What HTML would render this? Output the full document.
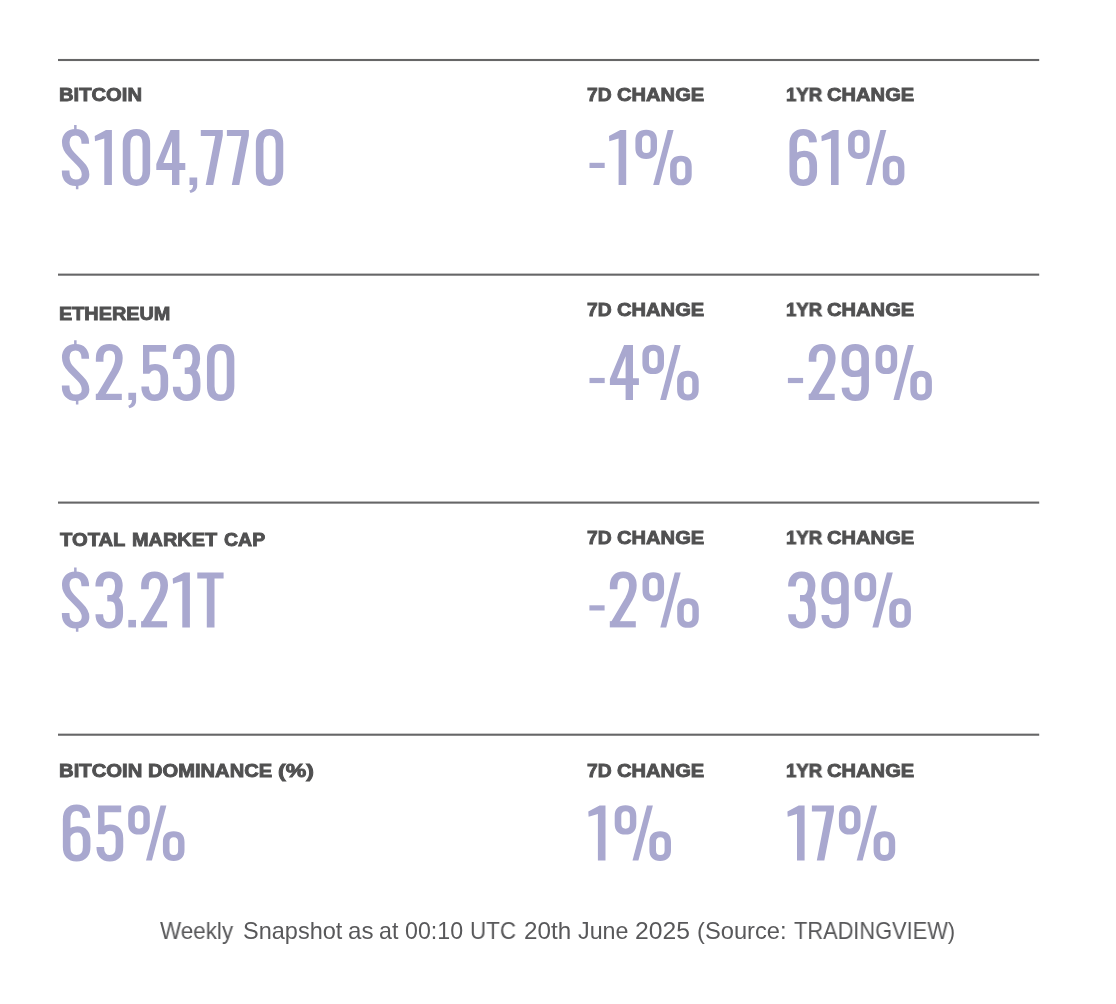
<!DOCTYPE html>
<html lang="en">
<head>
<meta charset="utf-8">
<title>Weekly Snapshot</title>
<style>
html,body{margin:0;padding:0;background:#fff;}
body{width:1116px;height:1004px;position:relative;overflow:hidden;font-family:"Liberation Sans",sans-serif;}
.lb,.ft{position:absolute;white-space:nowrap;line-height:1;transform-origin:0 0;will-change:transform;}
.lb{font-weight:bold;font-size:19px;color:#505051;-webkit-text-stroke:0.9px #505051;}
.ft{font-size:23.2px;color:#58585a;}
.bn{position:absolute;white-space:nowrap;line-height:1;font-size:77px;color:transparent;transform-origin:0 0;}
#big{position:absolute;left:0;top:0;}
#big .s{fill:none;stroke:#a9a8cf;stroke-width:7.6;stroke-linecap:butt;stroke-linejoin:round;}
#big .f{fill:#a9a8cf;stroke:none;fill-rule:evenodd;}
</style>
</head>
<body>
<svg id="big" width="1116" height="1004" viewBox="0 0 1116 1004">
<defs>
<g id="g0"><path class="s" transform="scale(1 0.84)" d="M3.85 16.46C3.85 7.36 7.3 2.62 13.75 2.62C20.2 2.62 23.65 7.36 23.65 16.46V48.89C23.65 58 20.2 62.74 13.75 62.74C7.3 62.74 3.85 58 3.85 48.89Z"/></g>
<g id="g1"><path class="f" d="M0 5.91L11.3 0H17.2V54.9H9.6V8.38L0.3 11.14Z"/></g>
<g id="g2"><path class="s" transform="scale(1 0.84)" d="M3.85 19.87V15.86C3.85 7.36 7.2 2.62 13.5 2.62C19.7 2.62 23.1 7.36 23.1 15.25C23.1 21.32 21.5 26.18 19 31.65L4.2 61.4"/><path class="f" d="M0 48.69H26V54.9H0Z"/></g>
<g id="g3"><path class="s" transform="scale(1 0.84)" d="M3.85 16.59V15.86C3.85 7.36 7.3 2.62 13.6 2.62C20 2.62 23.5 7.36 23.5 15.86C23.5 23.87 21 29.95 16 30.43C21.4 30.92 23.85 35.78 23.85 44.4V49.26C23.85 58 20.3 62.74 13.8 62.74C7.3 62.74 3.85 58 3.85 49.62"/><path class="f" d="M11.9 22.47H17V28.88H11.9Z"/></g>
<g id="g4"><path class="f" d="M14.2 0H23.1V33.12H29V39.92H23.1V54.9H15.7V39.92H0V33.91ZM15.7 11.24V33.12H7.1Z"/></g>
<g id="g5"><path class="f" d="M1.7 0H24.8V6.7H8.1V28.58H1.7Z"/><path class="s" transform="scale(1 0.84)" d="M5.1 32.25C6.8 28.25 9.8 26.18 13.6 26.18C19.8 26.18 23.05 30.67 23.05 39.18V49.26C23.05 58 19.7 62.74 13.4 62.74C7.2 62.74 3.85 58 3.85 49.14"/></g>
<g id="g6"><path class="s" transform="scale(1 0.84)" d="M23.65 14.64C23.45 7.11 20.2 2.62 13.9 2.62C7.4 2.62 3.85 7.36 3.85 16.46V49.26C3.85 58 7.4 62.74 13.8 62.74C20.3 62.74 23.85 58 23.85 49.26V41.97C23.85 32.86 20.6 28.37 14.6 28.37C9.6 28.37 5.6 31.65 3.85 36.5"/></g>
<g id="g7"><path class="f" d="M0 0H22V5.52L12.4 54.9H4.9L14.4 6.01H0Z"/></g>
<g id="g9"><path class="s" transform="scale(1 0.84)" d="M3.85 50.59C4.05 58.24 7.4 62.74 13.7 62.74C20.2 62.74 23.55 58 23.55 48.89V16.1C23.55 7.36 20.1 2.62 13.7 2.62C7.3 2.62 3.75 7.36 3.75 16.1V21.93C3.75 30.19 7 34.32 13 34.32C18 34.32 21.9 31.4 23.55 26.79"/></g>
<g id="gp"><path class="f" d="M0,10.5 C0,3.264 3.564,-0.3 10.8,-0.3 C18.036,-0.3 21.6,3.264 21.6,10.5 V18.1 C21.6,25.336 18.036,28.9 10.8,28.9 C3.564,28.9 0,25.336 0,18.1 Z M6.6,10.2 C6.6,7.118 8.019,5.6 10.9,5.6 C13.781,5.6 15.2,7.118 15.2,10.2 V18.5 C15.2,21.582 13.781,23.1 10.9,23.1 C8.019,23.1 6.6,21.582 6.6,18.5 Z"/><path class="f" d="M34.7,36.5 C34.7,29.264 38.264,25.7 45.5,25.7 C52.736,25.7 56.3,29.264 56.3,36.5 V44.5 C56.3,51.736 52.736,55.3 45.5,55.3 C38.264,55.3 34.7,51.736 34.7,44.5 Z M41.3,36.2 C41.3,33.118 42.719,31.6 45.6,31.6 C48.481,31.6 49.9,33.118 49.9,36.2 V44.8 C49.9,47.882 48.481,49.4 45.6,49.4 C42.719,49.4 41.3,47.882 41.3,44.8 Z"/><path class="f" d="M32.3,0 H38.2 L23.7,54.9 H17.8 Z"/></g>
<g id="gm"><path class="f" d="M0,32.8 H15.2 V38 H0 Z"/></g>
<g id="gd"><path class="f" d="M0,47.4 H7.7 V54.9 H0 Z"/></g>
<g id="gc"><path class="f" d="M0.6,47.6 H8.3 V55.6 C8.3,59.6 5.8,62.1 1.6,63.1 L0.4,60.6 C2.8,59.9 4.1,58.2 4.2,54.9 H0.6 Z"/></g>
<g id="gT"><path class="f" d="M0 0H26.3V5.91H17.2V54.9H9.5V5.91H0Z"/></g>
<g id="gS"><path class="s" transform="scale(1 0.84)" d="M23.4 16.34V15.86C23.4 7.36 20 2.62 13.6 2.62C7.2 2.62 3.85 7.36 3.85 14.64C3.85 20.72 6 24.97 9.5 29.22L18 39.54C21.6 43.79 23.65 47.68 23.65 52.9C23.65 58.97 20 62.74 13.9 62.74C7.4 62.74 3.75 58 3.75 49.26V48.16"/><path class="f" d="M12.2 -4.93H14.7V0.99H12.2ZM14 53.72H16.5V59.34H14Z"/></g>
</defs>
<g transform="translate(0 130)"><use href="#gS" x="61.9"/><use href="#g1" x="94.7"/><use href="#g0" x="122.7"/><use href="#g4" x="156.3"/><use href="#gc" x="188.9"/><use href="#g7" x="200.8"/><use href="#g7" x="226.9"/><use href="#g0" x="255.8"/></g>
<g transform="translate(0 130)"><use href="#gm" x="589.5"/><use href="#g1" x="609"/><use href="#gp" x="635.4"/></g>
<g transform="translate(0 130)"><use href="#g6" x="789.4"/><use href="#g1" x="821.4"/><use href="#gp" x="848.1"/></g>
<g transform="translate(0 345.1)"><use href="#gS" x="61.9"/><use href="#g2" x="95.8"/><use href="#gc" x="127.8"/><use href="#g5" x="141.3"/><use href="#g3" x="172.8"/><use href="#g0" x="206.9"/></g>
<g transform="translate(0 345.1)"><use href="#gm" x="589.5"/><use href="#g4" x="609.9"/><use href="#gp" x="642.4"/></g>
<g transform="translate(0 345.1)"><use href="#gm" x="787.9"/><use href="#g2" x="808.7"/><use href="#g9" x="841.6"/><use href="#gp" x="875.6"/></g>
<g transform="translate(0 572.5)"><use href="#gS" x="61.9"/><use href="#g3" x="95.4"/><use href="#gd" x="128.3"/><use href="#g2" x="141.1"/><use href="#g1" x="172.7"/><use href="#gT" x="197.3"/></g>
<g transform="translate(0 572.5)"><use href="#gm" x="589.4"/><use href="#g2" x="609.8"/><use href="#gp" x="642.5"/></g>
<g transform="translate(0 572.5)"><use href="#g3" x="788.1"/><use href="#g9" x="821.4"/><use href="#gp" x="854.6"/></g>
<g transform="translate(0 805.6)"><use href="#g6" x="62.8"/><use href="#g5" x="96.4"/><use href="#gp" x="128.2"/></g>
<g transform="translate(0 805.6)"><use href="#g1" x="588.3"/><use href="#gp" x="614.7"/></g>
<g transform="translate(0 805.6)"><use href="#g1" x="787.4"/><use href="#g7" x="811.9"/><use href="#gp" x="838.9"/></g>
<rect x="58" y="58.95" width="981.2" height="2.1" fill="#666667"/>
<rect x="58" y="273.6" width="981.2" height="2.1" fill="#666667"/>
<rect x="58" y="501.55" width="981.2" height="2.1" fill="#666667"/>
<rect x="58" y="733.65" width="981.2" height="2.1" fill="#666667"/>
</svg>
<span class="bn" style="left:61.38px;top:119.00px;transform:scaleX(0.6973)">$104,770</span>
<span class="bn" style="left:586.76px;top:119.00px;transform:scaleX(0.7816)">-1%</span>
<span class="bn" style="left:786.28px;top:119.00px;transform:scaleX(0.7797)">61%</span>
<span class="bn" style="left:61.34px;top:334.10px;transform:scaleX(0.7443)">$2,530</span>
<span class="bn" style="left:586.58px;top:334.10px;transform:scaleX(0.8352)">-4%</span>
<span class="bn" style="left:785.00px;top:334.10px;transform:scaleX(0.8300)">-29%</span>
<span class="bn" style="left:61.39px;top:561.50px;transform:scaleX(0.6816)">$3.21T</span>
<span class="bn" style="left:586.47px;top:561.50px;transform:scaleX(0.8367)">-2%</span>
<span class="bn" style="left:785.62px;top:561.50px;transform:scaleX(0.8269)">39%</span>
<span class="bn" style="left:59.50px;top:794.60px;transform:scaleX(0.8251)">65%</span>
<span class="bn" style="left:583.67px;top:794.60px;transform:scaleX(0.8049)">1%</span>
<span class="bn" style="left:783.15px;top:794.60px;transform:scaleX(0.7396)">17%</span>
<span class="lb" style="left:59.20px;top:85.00px;transform:scaleX(1.0627)">BITCOIN</span>
<span class="lb" style="left:59.22px;top:304.00px;transform:scaleX(1.0448)">ETHEREUM</span>
<span class="lb" style="left:59.97px;top:530.00px;transform:scaleX(1.0623)">TOTAL</span>
<span class="lb" style="left:132.02px;top:530.00px;transform:scaleX(1.0464)">MARKET</span>
<span class="lb" style="left:223.54px;top:530.00px;transform:scaleX(1.0264)">CAP</span>
<span class="lb" style="left:59.20px;top:761.00px;transform:scaleX(1.0667)">BITCOIN</span>
<span class="lb" style="left:148.31px;top:761.00px;transform:scaleX(1.0595)">DOMINANCE</span>
<span class="lb" style="left:277.69px;top:761.00px;transform:scaleX(1.2140)">(%)</span>
<span class="lb" style="left:587.05px;top:85.00px;transform:scaleX(1.0147)">7D</span>
<span class="lb" style="left:617.34px;top:85.00px;transform:scaleX(1.0593)">CHANGE</span>
<span class="lb" style="left:785.57px;top:85.00px;transform:scaleX(0.9781)">1YR</span>
<span class="lb" style="left:827.44px;top:85.00px;transform:scaleX(1.0593)">CHANGE</span>
<span class="lb" style="left:587.05px;top:300.00px;transform:scaleX(1.0147)">7D</span>
<span class="lb" style="left:617.34px;top:300.00px;transform:scaleX(1.0593)">CHANGE</span>
<span class="lb" style="left:785.57px;top:300.00px;transform:scaleX(0.9781)">1YR</span>
<span class="lb" style="left:827.44px;top:300.00px;transform:scaleX(1.0593)">CHANGE</span>
<span class="lb" style="left:587.05px;top:528.00px;transform:scaleX(1.0147)">7D</span>
<span class="lb" style="left:617.34px;top:528.00px;transform:scaleX(1.0593)">CHANGE</span>
<span class="lb" style="left:785.57px;top:528.00px;transform:scaleX(0.9781)">1YR</span>
<span class="lb" style="left:827.44px;top:528.00px;transform:scaleX(1.0593)">CHANGE</span>
<span class="lb" style="left:587.05px;top:761.00px;transform:scaleX(1.0147)">7D</span>
<span class="lb" style="left:617.34px;top:761.00px;transform:scaleX(1.0593)">CHANGE</span>
<span class="lb" style="left:785.57px;top:761.00px;transform:scaleX(0.9781)">1YR</span>
<span class="lb" style="left:827.44px;top:761.00px;transform:scaleX(1.0593)">CHANGE</span>
<span class="ft" style="left:160.26px;top:920.00px;transform:scaleX(0.9674)">Weekly</span>
<span class="ft" style="left:242.83px;top:920.00px;transform:scaleX(1.0135)">Snapshot</span>
<span class="ft" style="left:348.36px;top:920.00px;transform:scaleX(1.0400)">as</span>
<span class="ft" style="left:379.02px;top:920.00px;transform:scaleX(0.9753)">at</span>
<span class="ft" style="left:405.30px;top:920.00px;transform:scaleX(0.9982)">00:10</span>
<span class="ft" style="left:469.81px;top:920.00px;transform:scaleX(0.9644)">UTC</span>
<span class="ft" style="left:523.69px;top:920.00px;transform:scaleX(1.0447)">20th</span>
<span class="ft" style="left:578.40px;top:920.00px;transform:scaleX(1.0031)">June</span>
<span class="ft" style="left:635.27px;top:920.00px;transform:scaleX(1.0640)">2025</span>
<span class="ft" style="left:696.57px;top:920.00px;transform:scaleX(1.0226)">(Source:</span>
<span class="ft" style="left:794.23px;top:920.00px;transform:scaleX(0.9404)">TRADINGVIEW)</span>
</body>
</html>
